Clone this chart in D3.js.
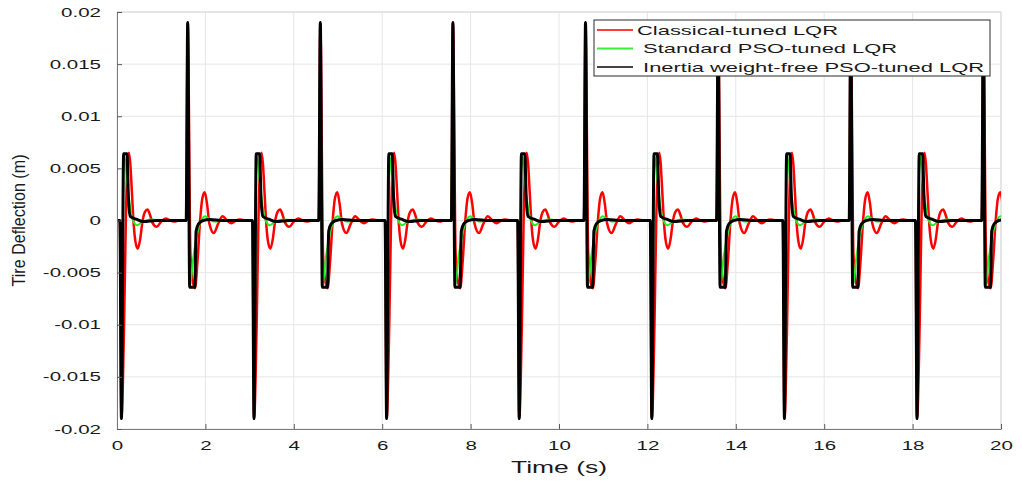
<!DOCTYPE html>
<html><head><meta charset="utf-8">
<script src="https://cdn.jsdelivr.net/npm/d3@7"></script>
<style>
body{margin:0;background:#fff}
text{font-family:"Liberation Sans",Arial,Helvetica,sans-serif}
</style>
</head><body>
<svg id="chart" width="1022" height="483"></svg>
<script>
// ---- data ----
const xTicks = [0, 2, 4, 6, 8, 10, 12, 14, 16, 18, 20];
const xTickLabels = ["0", "2", "4", "6", "8", "10", "12", "14", "16", "18", "20"];
const yTicks = [-0.02, -0.015, -0.01, -0.005, 0, 0.005, 0.01, 0.015, 0.02];
const yTickLabels = ["-0.02", "-0.015", "-0.01", "-0.005", "0", "0.005", "0.01", "0.015", "0.02"];
const seriesNames = ["Classical-tuned LQR", " Standard PSO-tuned LQR", " Inertia weight-free PSO-tuned LQR"];
const seriesColors = ["#ff0000", "#22ee22", "#000000"];
const legendColors = ["#ff3b3b", "#3bf03b", "#444444"];

// bump events (s) and their direction
const eventTimes = [0.1, 1.6, 3.1, 4.6, 6.1, 7.6, 9.1, 10.6, 12.1, 13.6, 15.1, 16.6, 18.1, 19.6];
const eventKinds = ["down", "up", "down", "up", "down", "up", "down", "up", "down", "up", "down", "up", "down", "up"];

// response after a downward bump: time since event (s), deflection (m)
const redDownT   = [-0.035, 0, 0.06, 0.1, 0.14, 0.17, 0.2, 0.24, 0.28, 0.32, 0.37, 0.42, 0.48, 0.53, 0.59, 0.65, 0.7, 0.8, 0.9, 1.0, 1.1, 1.2, 1.3, 1.42];
const redDownV   = [0, -0.019, -0.01, 0, 0.0055, 0.0065, 0.0055, 0.0025, -0.0005, -0.0021, -0.0027, -0.0019, 0, 0.0008, 0.00105, 0.0005, -0.0002, -0.0006, -0.0001, 0.0002, 0, -0.0001, 0, 0];
const greenDownT = [-0.035, 0, 0.05, 0.09, 0.126, 0.178, 0.24, 0.35, 0.45, 0.54, 0.7, 0.9, 1.42];
const greenDownV = [0, -0.019, 0.0062, 0.0055, 0.0038, 0.0019, 0.0003, -0.00045, -0.0002, 0, 0.0001, 0, 0];
const blackDownT = [-0.035, 0, 0.05, 0.125, 0.16, 0.2, 0.35, 0.5, 0.8, 1.42];
const blackDownV = [0, -0.019, 0.0064, 0.0064, 0.002, 0.0004, 0.0001, -0.0001, 0, 0];

// response after an upward bump
const redUpT   = [-0.035, 0, 0.06, 0.1, 0.165, 0.22, 0.28, 0.33, 0.385, 0.44, 0.49, 0.59, 0.69, 0.79, 0.89, 0.99, 1.09, 1.19, 1.3, 1.42];
const redUpV   = [0, 0.019, -0.003, -0.0055, -0.0065, -0.004, 0, 0.0021, 0.0027, 0.0015, -0.0003, -0.0012, -0.0003, 0.0004, 0, -0.00026, 0, 0.0001, 0, 0];
const greenUpT = [-0.035, 0, 0.045, 0.08, 0.12, 0.2, 0.26, 0.39, 0.5, 0.6, 0.8, 1.42];
const greenUpV = [0, 0.019, -0.0062, -0.0055, -0.0038, -0.0016, -0.0005, 0.0004, 0.0001, -0.0001, 0, 0];
const blackUpT = [-0.035, 0, 0.045, 0.16, 0.19, 0.25, 0.35, 0.5, 0.8, 1.42];
const blackUpV = [0, 0.019, -0.0064, -0.0064, -0.001, -0.0003, 0, 0.0001, 0, 0];

// ---- build the series ----
function buildSeries(downT, downV, upT, upV) {
  const pts = [{t: 0, v: 0}];
  eventTimes.forEach((te, i) => {
    const T = eventKinds[i] === "down" ? downT : upT;
    const V = eventKinds[i] === "down" ? downV : upV;
    T.forEach((dt, j) => pts.push({t: +(te + dt).toFixed(4), v: V[j]}));
  });
  return pts;
}
const series = [
  buildSeries(redDownT, redDownV, redUpT, redUpV),
  buildSeries(greenDownT, greenDownV, greenUpT, greenUpV),
  buildSeries(blackDownT, blackDownV, blackUpT, blackUpV)
];
const lineWidths = [2.5, 2, 3];

// ---- layout ----
const L = 117, R = 1001, T = 12, B = 429;
const SX = 1.63;
const svg = d3.select("#chart");
const x = d3.scaleLinear().domain([0, 20]).range([L, R]);
const y = d3.scaleLinear().domain([-0.02, 0.02]).range([B, T]);

// grid
const grid = svg.append("g");
grid.selectAll("line.gx").data(xTicks).join("line")
  .attr("x1", d => x(d)).attr("x2", d => x(d)).attr("y1", T).attr("y2", B)
  .attr("stroke", "#e6e6e6").attr("stroke-width", 1);
grid.selectAll("line.gy").data(yTicks).join("line")
  .attr("x1", L).attr("x2", R).attr("y1", d => y(d)).attr("y2", d => y(d))
  .attr("stroke", "#e6e6e6").attr("stroke-width", 1);
// light top / right edges
svg.append("line").attr("x1", L).attr("x2", R).attr("y1", T).attr("y2", T).attr("stroke", "#d6d6d6");
svg.append("line").attr("x1", R).attr("x2", R).attr("y1", T).attr("y2", B).attr("stroke", "#d6d6d6");

// lines
svg.append("clipPath").attr("id", "clip").append("rect")
  .attr("x", L).attr("y", 0).attr("width", R - L).attr("height", 483);
const lineGen = d3.line().x(d => x(d.t)).y(d => y(d.v)).curve(d3.curveMonotoneX);
const plot = svg.append("g").attr("clip-path", "url(#clip)");
series.forEach((s, i) => {
  plot.append("path").datum(s).attr("d", lineGen)
    .attr("fill", "none").attr("stroke", seriesColors[i])
    .attr("stroke-width", lineWidths[i]).attr("stroke-linejoin", "round");
});

// axes
const gx = svg.append("g").attr("transform", `translate(0,${B})`)
  .call(d3.axisBottom(x).tickValues(xTicks).tickFormat((d, i) => xTickLabels[i])
    .tickSize(-5).tickSizeOuter(0).tickPadding(12));
const gy = svg.append("g").attr("transform", `translate(${L},0)`)
  .call(d3.axisLeft(y).tickValues(yTicks).tickFormat((d, i) => yTickLabels[i])
    .tickSize(-5).tickSizeOuter(0).tickPadding(16));
[gx, gy].forEach(g => {
  g.attr("font-size", 12.6).attr("font-family", '"Liberation Sans", Arial, sans-serif');
  g.select(".domain").attr("stroke", "#7a7a7a");
  g.selectAll(".tick line").attr("stroke", "#5a5a5a");
  g.selectAll(".tick text").attr("fill", "#1a1a1a").attr("transform", `scale(${SX},1)`);
});
gy.selectAll(".tick text").attr("x", -16 / SX);

// axis titles
svg.append("text").attr("x", (L + R) / 2).attr("y", 472.5)
  .attr("text-anchor", "middle").attr("font-size", 16).attr("fill", "#1a1a1a")
  .attr("textLength", 96).attr("lengthAdjust", "spacingAndGlyphs")
  .text("Time (s)");
svg.append("text").attr("transform", `translate(25,${(T + B) / 2}) rotate(-90)`)
  .attr("text-anchor", "middle").attr("font-size", 19).attr("fill", "#1a1a1a")
  .attr("textLength", 132).attr("lengthAdjust", "spacingAndGlyphs")
  .text("Tire Deflection (m)");

// legend
const lg = svg.append("g");
lg.append("rect").attr("x", 594).attr("y", 20).attr("width", 396).attr("height", 56)
  .attr("fill", "#fff").attr("stroke", "#2a2a2a").attr("stroke-width", 1);
const legendWidths = [201, 260, 347];
seriesNames.forEach((name, i) => {
  const cy = 30 + i * 18.5;
  lg.append("line").attr("x1", 597).attr("x2", 633).attr("y1", cy).attr("y2", cy)
    .attr("stroke", legendColors[i]).attr("stroke-width", 2);
  lg.append("text").attr("x", 637).attr("y", cy + 4.6)
    .attr("font-size", 12.8).attr("fill", "#1a1a1a")
    .style("white-space", "pre")
    .attr("textLength", legendWidths[i]).attr("lengthAdjust", "spacingAndGlyphs")
    .text(name);
});
</script>
</body></html>
